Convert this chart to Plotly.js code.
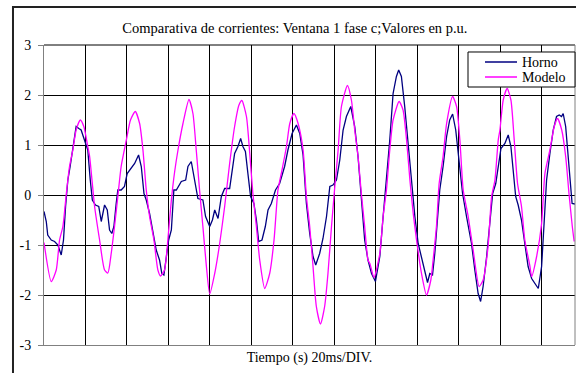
<!DOCTYPE html>
<html>
<head>
<meta charset="utf-8">
<script src="https://cdn.plot.ly/plotly-3.0.1.min.js"></script>
<style>html,body{margin:0;padding:0;background:#fff;}#chart{width:576px;height:373px;}</style>
</head>
<body>
<div id="chart"></div>
<script>
// Tiempo en ms (20 ms por división)
var tiempoHorno = [0,1.1,1.8,3.5,5.1,6.7,8.3,9.4,10.4,11.5,
12.6,13.9,15.5,16.8,17.9,19.5,21.1,22.3,23.3,24.8,
26.4,27.6,29.2,30.5,31.6,32.7,33.7,34.8,35.6,37.2,
38.8,40.1,41.7,43.7,45.6,46.9,48.2,49.3,50.9,52.5,
54.1,55.7,56.8,57.8,59.0,60.1,61.4,62.6,63.8,66.2,
68.3,69.4,71.0,72.6,74.2,76.6,77.9,79.9,81.2,82.3,
83.9,85.5,87.1,89.5,91.9,93.5,94.8,95.9,97.1,98.3,
99.6,101.2,102.4,103.5,105.1,106.7,108.0,109.6,111.6,113.6,
116.0,117.6,119.6,121.7,123.3,124.9,126.5,128.1,129.7,131.0,
132.9,134.5,136.2,137.8,139.3,141.0,142.6,144.2,145.8,147.9,
149.8,151.4,153.0,154.6,156.2,157.9,159.8,161.9,163.5,165.1,
166.7,168.3,169.9,171.0,172.3,173.9,175.5,177.2,178.8,180.4,
182.3,183.9,184.9,186.0,187.3,188.4,189.5,190.8,192.4,194.1,
195.6,197.0,198.5,200.1,201.8,203.7,206.1,207.7,209.3,210.5,
211.7,213.4,215.0,216.3,217.8,219.0,220.3,222.2,223.8,225.1,
226.2,227.4,228.6,230.2,231.8,233.4,235.1,236.7,238.3,239.9,
241.2,242.3,243.9,245.5,247.1,248.4,249.5,250.3,251.5,252.7,
254.0,254.6,256];
var horno = [-0.33,-0.53,-0.8,-0.9,-0.93,-1.0,-1.2,-0.9,-0.23,0.3,
0.57,0.97,1.37,1.33,1.3,1.1,0.9,0.3,-0.1,-0.2,
-0.23,-0.53,-0.2,-0.3,-0.7,-0.77,-0.63,-0.17,0.1,0.1,
0.17,0.43,0.53,0.63,0.8,0.57,0.03,-0.1,-0.37,-0.77,
-1.1,-1.3,-1.57,-1.6,-1.17,-0.9,-0.7,0.1,0.1,0.27,
0.3,0.57,0.67,0.3,-0.07,-0.1,-0.43,-0.63,-0.5,-0.3,
-0.47,-0.03,0.13,0.13,0.83,0.97,1.13,0.97,0.87,0.43,
-0.03,-0.17,-0.5,-0.93,-0.9,-0.63,-0.3,-0.17,0.1,0.23,
0.57,0.9,1.23,1.4,1.23,0.8,-0.17,-0.77,-1.23,-1.4,
-1.17,-0.87,-0.43,0.17,0.2,0.3,0.7,1.3,1.57,1.77,
1.37,0.77,-0.03,-0.9,-1.3,-1.57,-1.73,-1.23,-0.43,0.3,
1.1,2.03,2.37,2.5,2.37,1.77,1.03,0.23,-0.43,-0.97,
-1.3,-1.57,-1.75,-1.57,-1.6,-1.17,-0.63,0.1,0.57,1.17,
1.5,1.62,1.3,0.7,0.03,-0.43,-0.97,-1.5,-1.97,-2.13,
-1.83,-1.23,-0.57,0.03,0.23,0.57,0.93,1.03,1.2,0.97,
0.43,-0.03,-0.2,-0.5,-0.97,-1.43,-1.67,-1.77,-1.87,-1.43,
-0.57,0.3,0.83,1.3,1.57,1.6,1.57,1.63,1.37,0.77,
0.03,-0.17,-0.18];

var tiempoModelo = [0,3.5,5.9,7.5,9.1,10.7,12.3,13.9,15.5,17.5,
19.2,21.1,22.0,24.4,26.8,29.2,30.8,32.4,34.0,35.6,
37.2,39.7,41.7,44.0,46.1,47.7,49.3,50.9,53.0,54.9,
56.2,58.1,59.7,61.4,63.0,64.6,67.0,69.9,71.8,73.4,
75.0,76.6,78.3,79.9,82.3,84.7,87.1,89.5,91.9,94.0,
95.4,97.6,99.2,100.7,102.4,104.0,106.4,108.8,110.9,112.8,
114.4,116.9,118.5,120.5,122.5,124.9,126.5,128.1,129.7,131.3,
133.3,135.3,136.9,138.6,140.2,141.8,143.4,146.3,148.2,149.8,
151.4,153.0,154.6,156.2,157.1,159.1,161.9,163.5,165.1,166.7,
168.3,171.2,173.1,174.8,176.4,178.0,179.6,182.0,184.4,186.5,
187.6,189.2,190.5,192.4,194.1,197.0,198.9,200.5,202.1,204.5,
206.9,209.8,211.7,214.1,215.8,217.4,219.0,219.8,221.4,223.3,
225.1,226.7,228.3,230.2,231.8,234.3,235.1,237.5,239.9,241.5,
243.9,246.0,247.6,249.6,251.5,253.1,254.7,255.6];
var modelo = [-0.95,-1.73,-1.5,-0.9,-0.63,0,0.57,0.9,1.3,1.5,
1.37,0.97,0.77,-0.23,-0.9,-1.5,-1.56,-1.17,-0.63,-0.03,
0.57,1.1,1.5,1.67,1.43,0.9,0.1,-0.43,-0.9,-1.5,
-1.62,-1.5,-0.9,-0.1,0.47,0.9,1.43,1.91,1.63,0.9,
0.1,-0.63,-1.43,-1.98,-1.57,-0.97,-0.23,0.63,1.37,1.8,
1.89,1.57,0.83,0.03,-0.63,-1.3,-1.87,-1.57,-0.9,0.1,
0.43,0.97,1.43,1.63,1.43,0.9,-0.03,-0.63,-1.43,-2.23,
-2.58,-2.23,-1.57,-0.63,0.17,0.9,1.77,2.19,1.9,1.3,
0.77,0.03,-0.63,-1.3,-1.37,-1.65,-1.17,-0.43,0.1,0.9,
1.5,1.87,1.7,1.1,0.3,-0.37,-0.9,-1.57,-2.0,-1.7,
-1.3,-0.63,0.23,0.77,1.43,1.97,1.77,1.1,0.1,-0.43,
-1.1,-1.83,-1.7,-1.03,-0.03,0.3,1.1,1.3,1.9,2.13,
1.9,1.1,0.23,-0.23,-0.9,-1.43,-1.63,-1.23,-0.57,0.43,
0.9,1.37,1.53,1.3,0.77,0.03,-0.63,-0.93];

var yTicks = [-3,-2,-1,0,1,2,3];
var yTickLabels = ['-3','-2','-1','0','1','2','3'];
var seriesNames = ['Horno', 'Modelo'];
var seriesColors = ['#000080', '#ff00ff'];

var FONT = '"Liberation Serif", "Times New Roman", serif';

var traces = [
  {x: tiempoHorno, y: horno, type: 'scatter', mode: 'lines', name: seriesNames[0],
   line: {color: seriesColors[0], width: 1.3}},
  {x: tiempoModelo, y: modelo, type: 'scatter', mode: 'lines', name: seriesNames[1],
   line: {color: seriesColors[1], width: 1.3, shape: 'spline', smoothing: 0.6}}
];

// Legend box drawn to match the original compact legend (paper coordinates)
var legX0 = 0.7985, legX1 = 1.0, legY0 = 0.86, legY1 = 0.9767;
var legLineX0 = 0.8305, legLineX1 = 0.8908, legTextX = 0.8964;
var legRowY = [0.9433, 0.8933];

var shapes = [
  {type: 'rect', xref: 'paper', yref: 'paper', x0: -0.0584, x1: 1.05, y0: -0.2, y1: 1.1267,
   line: {color: '#222', width: 2}, fillcolor: 'rgba(0,0,0,0)', layer: 'below'},
  {type: 'line', xref: 'paper', yref: 'paper', x0: 0, x1: 1, y0: 1, y1: 1,
   line: {color: '#000', width: 1}},
  {type: 'line', xref: 'paper', yref: 'paper', x0: 1, x1: 1, y0: 0, y1: 1,
   line: {color: '#808080', width: 1}},
  {type: 'rect', xref: 'paper', yref: 'paper', x0: legX0, x1: legX1, y0: legY0, y1: legY1,
   line: {color: '#000', width: 1}, fillcolor: '#ffffff', layer: 'above'}
];
var annotations = [];
for (var i = 0; i < seriesNames.length; i++) {
  shapes.push({type: 'line', xref: 'paper', yref: 'paper', x0: legLineX0, x1: legLineX1,
               y0: legRowY[i], y1: legRowY[i], line: {color: seriesColors[i], width: 1.3}, layer: 'above'});
  annotations.push({xref: 'paper', yref: 'paper', x: legTextX, y: legRowY[i], text: seriesNames[i],
                    showarrow: false, xanchor: 'left', yanchor: 'middle',
                    font: {family: FONT, size: 14, color: '#000'}});
}

var layout = {
  width: 576, height: 373,
  margin: {l: 44, r: 1, t: 45, b: 28},
  paper_bgcolor: '#ffffff', plot_bgcolor: '#ffffff',
  font: {family: FONT, size: 14, color: '#000'},
  showlegend: false,
  title: {text: 'Comparativa de corrientes: Ventana 1 fase c;Valores en p.u.',
          font: {family: FONT, size: 14.5, color: '#000'},
          x: 0.512, xanchor: 'center', y: 0.925, yanchor: 'middle'},
  xaxis: {range: [0, 256], tick0: 0, dtick: 20, showticklabels: false, ticks: '',
          showgrid: true, gridcolor: '#000', gridwidth: 1, zeroline: false,
          showline: true, linecolor: '#808080', linewidth: 1,
          title: {text: 'Tiempo (s) 20ms/DIV.', font: {family: FONT, size: 14, color: '#000'}, standoff: 7}},
  yaxis: {range: [-3, 3], tickvals: yTicks, ticktext: yTickLabels, ticks: 'outside', ticklen: 5,
          tickcolor: '#808080', showgrid: true, gridcolor: '#000', gridwidth: 1, zeroline: false,
          showline: true, linecolor: '#808080', linewidth: 1, ticklabelstandoff: 4,
          tickfont: {family: FONT, size: 14, color: '#000'}},
  shapes: shapes,
  annotations: annotations
};

Plotly.newPlot('chart', traces, layout, {displayModeBar: false, staticPlot: true});
</script>
</body>
</html>
